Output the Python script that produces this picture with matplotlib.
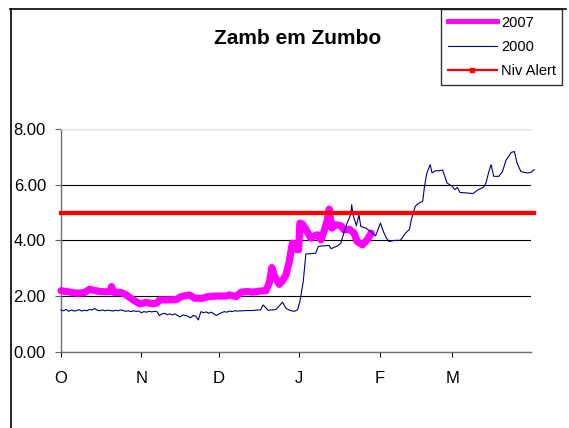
import matplotlib.pyplot as plt
from matplotlib.lines import Line2D

plt.rcParams["font.family"] = ["Liberation Sans", "DejaVu Sans"]

# days counted from 1 October
month_days = [0, 31, 61, 92, 123, 151]
month_labels = ["O", "N", "D", "J", "F", "M"]

days_2007 = [0, 3, 6, 9, 11, 13, 15, 17, 19, 19.5, 20.5, 23, 25, 26.5, 28, 30.4,
             33, 35.5, 37, 38.1, 41, 44.5, 46.4, 49.6, 51.5, 54.7, 56.7, 60, 63.7,
             65, 67.6, 69.5, 72, 74, 77, 79.1, 80.4, 81.4, 82.5, 84.2, 85.5, 86.8,
             88, 89.3, 90.7, 91.7, 92.2, 93.2, 94.5, 96.4, 97.5, 99, 100.3, 101.5,
             102.8, 103.5, 104.5, 106, 108, 109.2, 111.2, 113.1, 114.3, 116.3,
             118.2, 119.7]
level_2007 = [2.19, 2.15, 2.10, 2.12, 2.24, 2.20, 2.16, 2.15, 2.16, 2.34, 2.13,
              2.13, 2.05, 1.95, 1.85, 1.72, 1.77, 1.72, 1.75, 1.86, 1.86, 1.87,
              1.98, 2.04, 1.92, 1.92, 1.98, 2.00, 2.00, 2.04, 1.98, 2.14, 2.16,
              2.14, 2.18, 2.19, 2.48, 3.02, 2.70, 2.42, 2.55, 2.75, 3.20, 3.90,
              3.68, 3.66, 4.62, 4.58, 4.40, 4.08, 4.15, 4.20, 4.02, 4.32, 4.74,
              5.12, 4.44, 4.56, 4.52, 4.38, 4.40, 4.26, 3.96, 3.84, 4.02, 4.26]

days_2000 = [0, 1, 2, 3, 4, 5, 6, 7, 8, 9, 10, 11, 12, 13, 14, 15, 16, 17, 18, 19,
             20, 21, 22, 23, 24, 25, 26, 27, 28, 29, 30, 31, 32, 33, 34, 35, 36,
             37, 38, 39, 40, 41, 42, 43, 44, 45, 46, 47, 48, 49, 50, 51, 52, 53,
             54, 55, 56, 57, 58, 59, 60, 61, 62, 63, 64, 65, 66, 67, 68, 70, 72,
             74, 76, 77, 78, 79, 80, 81, 82, 83, 84, 85.5, 86.8, 88, 89, 90, 91.3,
             92.2, 93.5, 94.5, 96, 98.3, 99.3, 101, 103.5, 104.2, 106.7, 108,
             109.9, 111.8, 112.2, 112.7, 114, 115, 115.7, 117.6, 119.5, 121.4,
             123.3, 124.5, 125.5, 126.5, 129, 131, 133, 134.5, 135.2, 136.7, 138,
             139.6, 140.3, 141.2, 142.5, 143.2, 144.5, 146, 147.3, 148, 149, 151,
             152, 153, 154, 157, 159, 161, 163, 164, 165, 166, 167, 169, 170.4,
             171.7, 173.2, 173.8, 175, 176, 177.5, 180, 181.5, 182.6]
level_2000 = [1.50, 1.47, 1.52, 1.45, 1.50, 1.46, 1.48, 1.51, 1.46, 1.49, 1.47,
              1.52, 1.50, 1.55, 1.49, 1.47, 1.50, 1.47, 1.49, 1.48, 1.46, 1.49,
              1.47, 1.50, 1.48, 1.45, 1.47, 1.44, 1.47, 1.45, 1.46, 1.40, 1.44,
              1.42, 1.45, 1.43, 1.45, 1.44, 1.30, 1.36, 1.38, 1.33, 1.36, 1.32,
              1.36, 1.30, 1.25, 1.32, 1.30, 1.27, 1.22, 1.30, 1.28, 1.14, 1.44,
              1.40, 1.43, 1.38, 1.42, 1.36, 1.30, 1.36, 1.40, 1.44, 1.42, 1.46,
              1.44, 1.47, 1.46, 1.47, 1.48, 1.48, 1.50, 1.50, 1.68, 1.58, 1.48,
              1.50, 1.50, 1.52, 1.62, 1.78, 1.56, 1.50, 1.47, 1.45, 1.50, 1.80,
              2.52, 3.51, 3.52, 3.54, 3.78, 3.80, 3.82, 3.70, 3.80, 3.90, 4.50,
              4.92, 5.28, 4.92, 4.52, 4.92, 4.50, 4.44, 4.32, 4.16, 4.62, 4.30,
              4.10, 3.96, 4.00, 4.00, 4.26, 4.40, 4.74, 5.22, 5.33, 5.40, 5.94,
              6.42, 6.72, 6.42, 6.50, 6.50, 6.53, 6.33, 6.06, 5.94, 5.82, 5.90,
              5.72, 5.70, 5.68, 5.82, 5.90, 6.06, 6.42, 6.72, 6.30, 6.30, 6.47,
              6.87, 7.08, 7.16, 7.19, 6.78, 6.47, 6.42, 6.45, 6.54]

alert_days = [0, 182.6]
alert_level = [5.0, 5.0]

fig = plt.figure(figsize=(5.69, 4.28), dpi=100)
ax = fig.add_axes([61 / 569, 76.3 / 428, 470 / 569, 222.7 / 428])

ax.plot(days_2007, level_2007, color="#ff00ff", lw=5.2, solid_capstyle="round",
        solid_joinstyle="round", clip_on=False, zorder=3)
ax.plot(days_2000, level_2000, color="#000080", lw=0.8, clip_on=False, zorder=4)
ax.plot(alert_days, alert_level, color="#ff0000", lw=3.1, clip_on=False, zorder=5)

ax.set_xlim(0, 181.4)
ax.set_ylim(0, 8)
ax.set_yticks([0, 2, 4, 6, 8])
ax.set_yticklabels(["0.00", "2.00", "4.00", "6.00", "8.00"])
ax.set_xticks(month_days)
ax.set_xticklabels(month_labels)
ax.yaxis.grid(True, color="black", lw=0.8)
ax.set_axisbelow(True)
ax.tick_params(axis="y", direction="out", length=4.3, width=0.8, pad=6.5,
               labelsize=12, colors="#606060", labelcolor="black")
ax.tick_params(axis="x", direction="out", length=3.6, width=0.8, pad=10,
               labelsize=12, colors="black", labelcolor="black")
for s in ["left", "bottom"]:
    ax.spines[s].set_color("#707070")
    ax.spines[s].set_linewidth(1)
ax.spines["right"].set_visible(False)
ax.spines["top"].set_color("#e6e6e6")

fig.text(297.5 / 569, 1 - 38 / 428, "Zamb em Zumbo", ha="center", va="center",
         fontsize=15, fontweight="bold")

# chart frame
fig.add_artist(Line2D([10.5 / 569, 10.5 / 569], [0, 1 - 9 / 428], color="black", lw=1.2))
fig.add_artist(Line2D([10 / 569, 566 / 569], [1 - 9 / 428, 1 - 9 / 428], color="black", lw=1.2))

handles = [
    Line2D([], [], color="#ff00ff", lw=3.5),
    Line2D([], [], color="#000080", lw=0.8),
    Line2D([], [], color="#ff0000", lw=1.6, marker="s", markersize=3),
]
leg = fig.legend(handles, ["2007", "2000", "Niv Alert"], loc="upper left",
                 bbox_to_anchor=(441 / 569, 1 - 9 / 428), borderaxespad=0,
                 fontsize=10.5, frameon=True, fancybox=False, handlelength=3.4,
                 handletextpad=0.25, labelspacing=0.7, markerscale=1,
                 numpoints=1, borderpad=0.45)
leg.get_frame().set_edgecolor("black")
leg.get_frame().set_linewidth(1)

fig.savefig("out.png", dpi=100)
